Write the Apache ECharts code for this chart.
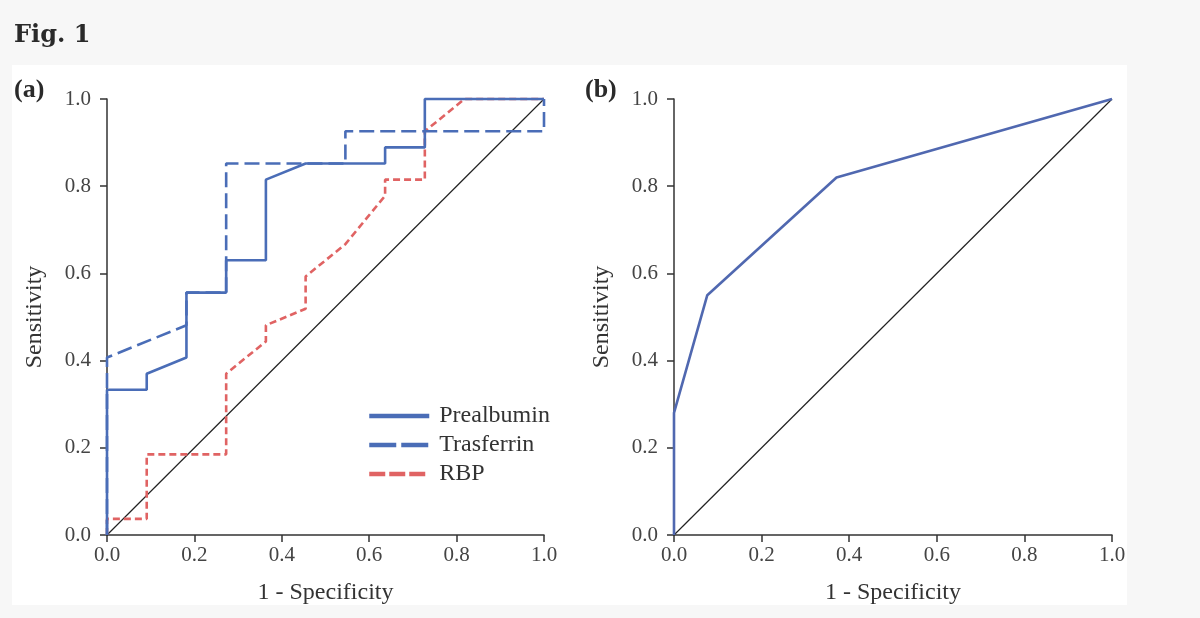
<!DOCTYPE html>
<html lang="en">
<head>
    <meta charset="UTF-8">
    <title>Fig. 1 ROC</title>
    <style>
        html, body { margin: 0; padding: 0; background: #f7f7f7; }
        #main { width: 1200px; height: 618px; }
    </style>
</head>
<body>
<div id="main"></div>
<script src="https://cdn.jsdelivr.net/npm/echarts@6/dist/echarts.min.js"></script>
<script>
    // ticks shared by both panels
    const tickValues = [0, 0.2, 0.4, 0.6, 0.8, 1.0];

    // panel (a): [1 - specificity, sensitivity]
    const prealbumin = [[0, 0], [0, 0.333], [0.0909, 0.333], [0.0909, 0.370], [0.1818, 0.407], [0.1818, 0.556],
        [0.2727, 0.556], [0.2727, 0.630], [0.3636, 0.630], [0.3636, 0.815], [0.4545, 0.852], [0.6364, 0.852],
        [0.6364, 0.889], [0.7273, 0.889], [0.7273, 1], [1, 1]];
    const trasferrin = [[0, 0], [0, 0.407], [0.1818, 0.481], [0.1818, 0.556], [0.2727, 0.556], [0.2727, 0.852],
        [0.5455, 0.852], [0.5455, 0.926], [1, 0.926], [1, 1]];
    const rbp = [[0, 0], [0, 0.037], [0.0909, 0.037], [0.0909, 0.185], [0.2727, 0.185], [0.2727, 0.370],
        [0.3636, 0.444], [0.3636, 0.481], [0.4545, 0.519], [0.4545, 0.593], [0.5455, 0.667], [0.6364, 0.778],
        [0.6364, 0.815], [0.7273, 0.815], [0.7273, 0.926], [0.8182, 1], [1, 1]];

    // panel (b)
    const combined = [[0, 0], [0, 0.28], [0.076, 0.55], [0.371, 0.82], [1, 1]];

    const refLine = [[0, 0], [1, 1]];

    const serif = "'Liberation Serif', 'DejaVu Serif', serif";
    const blue = '#4a6db7';
    const red = '#e06363';

    function xAxisFor(idx) {
        return {
            type: 'value', gridIndex: idx, min: 0, max: 1, interval: 0.2,
            name: '1 - Specificity', nameLocation: 'middle', nameGap: 46,
            nameTextStyle: {fontFamily: serif, fontSize: 24, color: '#333'},
            axisLine: {lineStyle: {color: '#333', width: 1.5}},
            axisTick: {length: 7, lineStyle: {color: '#333', width: 1.5}},
            axisLabel: {fontFamily: serif, fontSize: 21, color: '#444', margin: 10,
                formatter: v => v.toFixed(1)},
            splitLine: {show: false}
        };
    }

    function yAxisFor(idx) {
        return {
            type: 'value', gridIndex: idx, min: 0, max: 1, interval: 0.2,
            name: 'Sensitivity', nameLocation: 'middle', nameGap: 60,
            nameTextStyle: {fontFamily: serif, fontSize: 24, color: '#333'},
            axisLine: {show: true, lineStyle: {color: '#333', width: 1.5}},
            axisTick: {show: true, length: 7, lineStyle: {color: '#333', width: 1.5}},
            axisLabel: {fontFamily: serif, fontSize: 21, color: '#444', margin: 16,
                formatter: v => v.toFixed(1)},
            splitLine: {show: false}
        };
    }

    function lineSeries(name, data, idx, color, width, type, z) {
        return {
            name: name, type: 'line', xAxisIndex: idx, yAxisIndex: idx,
            data: data, symbol: 'none', clip: false, z: z || 2,
            lineStyle: {color: color, width: width, type: type},
            itemStyle: {color: color},
            emphasis: {disabled: true}
        };
    }

    const option = {
        backgroundColor: '#f7f7f7',
        animation: false,
        graphic: [{
            type: 'rect', left: 12, top: 65, z: -10,
            shape: {width: 1115, height: 540},
            style: {fill: '#ffffff'}
        }],
        title: [
            {text: 'Fig. 1', left: 9, top: 19,
                textStyle: {fontFamily: "'DejaVu Serif', serif", fontSize: 24, fontWeight: 'bold', color: '#2a2a2a'}},
            {text: '(a)', left: 9, top: 72,
                textStyle: {fontFamily: serif, fontSize: 26, fontWeight: 'bold', color: '#2a2a2a'}},
            {text: '(b)', left: 580, top: 72,
                textStyle: {fontFamily: serif, fontSize: 26, fontWeight: 'bold', color: '#2a2a2a'}}
        ],
        legend: {
            left: 362, top: 399, orient: 'vertical',
            itemWidth: 60, itemHeight: 14, itemGap: 5,
            itemStyle: {opacity: 0},
            data: [
                {name: 'Prealbumin', lineStyle: {width: 4.5, type: 'solid'}},
                {name: 'Trasferrin', lineStyle: {width: 4.5, type: [27, 5]}},
                {name: 'RBP', lineStyle: {width: 4.5, type: [16, 4]}}
            ],
            textStyle: {fontFamily: serif, fontSize: 24, color: '#333', padding: [0, 0, 0, 5]},
            selectedMode: false
        },
        grid: [
            {left: 107, top: 99, width: 437, height: 436},
            {left: 674, top: 99, width: 438, height: 436}
        ],
        xAxis: [xAxisFor(0), xAxisFor(1)],
        yAxis: [yAxisFor(0), yAxisFor(1)],
        series: [
            lineSeries('ref-a', refLine, 0, '#222', 1.2, 'solid', 1),
            lineSeries('RBP', rbp, 0, red, 2.6, [7, 4], 2),
            lineSeries('Trasferrin', trasferrin, 0, blue, 2.6, [15, 6], 3),
            lineSeries('Prealbumin', prealbumin, 0, blue, 2.6, 'solid', 4),
            lineSeries('ref-b', refLine, 1, '#222', 1.2, 'solid', 1),
            lineSeries('combined', combined, 1, '#5068b0', 2.6, 'solid', 3)
        ]
    };

    const chart = echarts.init(document.getElementById('main'));
    chart.setOption(option);
</script>
</body>
</html>
